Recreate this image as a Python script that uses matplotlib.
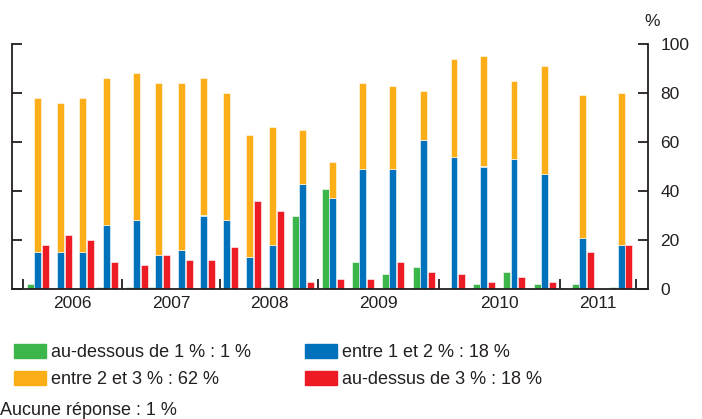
import matplotlib.pyplot as plt
from matplotlib.patches import Patch

plt.rcParams['font.family'] = ['Liberation Sans', 'DejaVu Sans']

# survey position along the (stretched) time axis, one per survey
survey_x = [0.152, 0.386, 0.609, 0.853,
            1.157, 1.381, 1.614, 1.838,
            2.071, 2.305, 2.538, 2.843,
            3.147, 3.452, 3.756, 4.071,
            4.376, 4.680, 4.985, 5.299,
            5.685, 6.071]
year_edges = [0, 1.005, 2.0, 2.995, 4.223, 5.452, 6.223]
years = ['2006', '2007', '2008', '2009', '2010', '2011']

below_1 = [2, 0, 0, 1, 1, 1, 0, 0, 0, 0, 1, 30, 41, 11, 6, 9, 0, 2, 7, 2, 2, 1]
between_1_2 = [15, 15, 15, 26, 28, 14, 16, 30, 28, 13, 18, 43, 37, 49, 49, 61, 54, 50, 53, 47, 21, 18]
total_1_3 = [78, 76, 78, 86, 88, 84, 84, 86, 80, 63, 66, 65, 52, 84, 83, 81, 94, 95, 85, 91, 79, 80]
above_3 = [18, 22, 20, 11, 10, 14, 12, 12, 17, 36, 32, 3, 4, 4, 11, 7, 6, 3, 5, 3, 15, 18]

between_2_3 = [t - b for t, b in zip(total_1_3, between_1_2)]

green = '#3cb54a'
blue = '#0072bc'
orange = '#fbae17'
red = '#ed1c24'
txt = '#231f20'
fs = 12.5
lfs = 13

fig = plt.figure(figsize=(7.02, 4.19), dpi=100)
ax = fig.add_axes([12 / 702, 1 - 289 / 419, (648 - 12) / 702, (289 - 44) / 419])

w = 0.071
off = 0.076
xg = [x - off for x in survey_x]
xr = [x + off for x in survey_x]
ec = dict(edgecolor='white', linewidth=0.4)
ax.bar(xg, below_1, w, color=green, **ec)
ax.bar(survey_x, between_1_2, w, color=blue, **ec)
ax.bar(survey_x, between_2_3, w, bottom=between_1_2, color=orange, **ec)
ax.bar(xr, above_3, w, color=red, **ec)

ax.set_xlim(-0.11, 6.345)
ax.set_ylim(0, 100)

ax.spines['top'].set_visible(False)
for s in ['left', 'right', 'bottom']:
    ax.spines[s].set_color(txt)
    ax.spines[s].set_linewidth(1.3)

# y axis: labels on the right, ticks inward on both sides
ax.set_yticks(range(0, 101, 20))
ax.yaxis.tick_right()
ax.tick_params(axis='y', which='major', left=True, right=True, direction='in',
               length=7, width=1.3, color=txt, labelsize=fs, labelcolor=txt, pad=9)
ax.text(1.006, 1.06, '%', transform=ax.transAxes, fontsize=fs, color=txt,
        ha='center', va='bottom')

# x axis: year separators as minor ticks, year labels centred
mids = [(a + b) / 2 for a, b in zip(year_edges[:-1], year_edges[1:])]
ax.set_xticks(mids)
ax.set_xticklabels(years)
ax.set_xticks(year_edges, minor=True)
ax.tick_params(axis='x', which='major', length=0, labelsize=fs, labelcolor=txt, pad=5)
ax.tick_params(axis='x', which='minor', direction='in', length=7, width=1.3, color=txt)

handles = [Patch(color=green), Patch(color=orange), Patch(color=blue), Patch(color=red)]
labels = ['au-dessous de 1 % : 1 %', 'entre 2 et 3 % : 62 %',
          'entre 1 et 2 % : 18 %', 'au-dessus de 3 % : 18 %']
fig.legend(handles, labels, loc='upper left', bbox_to_anchor=(0.007, 1 - 335 / 419),
           ncol=2, frameon=False, fontsize=lfs, handlelength=1.77, handleheight=0.78,
           handletextpad=0.3, columnspacing=2.98, labelspacing=0.55, borderpad=0,
           labelcolor=txt)
fig.text(0.0, 1 - 410 / 419, 'Aucune réponse : 1 %', fontsize=lfs, color=txt,
         ha='left', va='center')

fig.savefig('out.png', dpi=100)
